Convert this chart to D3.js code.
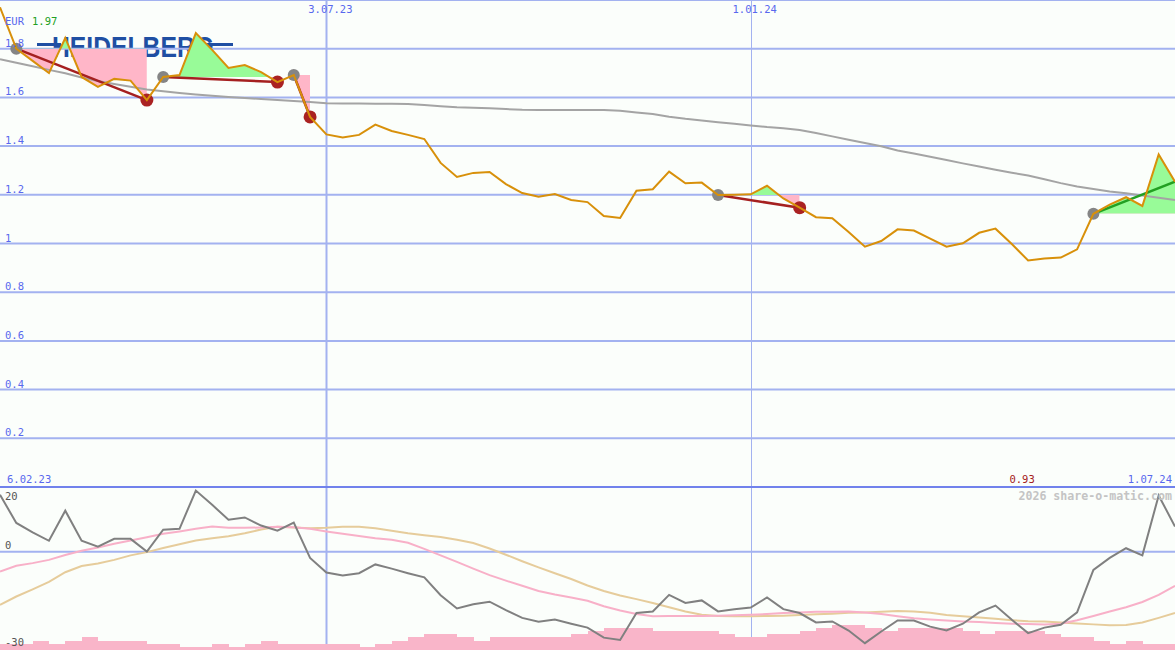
<!DOCTYPE html>
<html><head><meta charset="utf-8">
<script src="https://cdn.jsdelivr.net/npm/d3@7"></script>
<style>html,body{margin:0;padding:0;background:#fbfefb;overflow:hidden}</style>
</head><body><svg id="c" width="1175" height="650"></svg>
<script>
// ---------- data ----------
const firstWeek = "2023-02-13";
const weeks = 73;
const price = [1.97,1.80,1.75,1.70,1.844,1.684,1.643,1.676,1.669,1.589,
 1.684,1.692,1.864,1.795,1.721,1.733,1.704,1.663,1.692,1.52,
 1.448,1.435,1.446,1.488,1.462,1.446,1.429,1.331,1.273,1.29,
 1.294,1.244,1.207,1.192,1.203,1.179,1.17,1.113,1.105,1.217,
 1.223,1.295,1.247,1.25,1.199,1.20,1.202,1.237,1.185,1.147,
 1.108,1.104,1.047,0.987,1.01,1.058,1.053,1.02,0.987,1.001,
 1.044,1.061,0.998,0.93,0.938,0.942,0.976,1.122,1.16,1.19,
 1.154,1.366,1.254];
const ma200 = [1.757,1.742,1.728,1.713,1.699,1.682,1.667,1.655,1.644,1.632,
 1.625,1.618,1.612,1.607,1.602,1.598,1.593,1.589,1.585,1.581,
 1.576,1.575,1.575,1.574,1.574,1.573,1.569,1.564,1.560,1.558,
 1.555,1.552,1.549,1.548,1.548,1.548,1.548,1.548,1.545,1.538,
 1.532,1.521,1.512,1.505,1.498,1.492,1.485,1.478,1.473,1.466,
 1.454,1.440,1.426,1.413,1.399,1.382,1.370,1.356,1.343,1.329,
 1.316,1.303,1.291,1.279,1.264,1.248,1.234,1.224,1.214,1.206,
 1.197,1.188,1.179];
const momentum = [17.6,8.9,6.0,3.4,12.7,3.4,1.6,4.0,4.0,0.1,
 6.8,7.1,18.9,14.5,9.9,10.6,8.1,6.5,9.0,-1.9,
 -6.4,-7.3,-6.6,-3.9,-5.2,-6.6,-7.9,-13.4,-17.5,-16.2,
 -15.4,-18.0,-20.4,-21.6,-20.9,-22.2,-23.4,-26.5,-27.2,-18.9,
 -18.4,-13.3,-15.8,-15.0,-18.4,-17.7,-17.2,-14.1,-17.7,-18.9,
 -21.8,-21.5,-24.3,-28.2,-24.6,-21.2,-21.2,-23.1,-24.3,-22.2,
 -18.7,-16.6,-21.0,-25.1,-23.4,-22.5,-18.7,-5.6,-1.9,1.1,
 -1.1,17.4,7.8];
const momFast = [-6.1,-4.3,-3.5,-2.5,-1.0,0.3,1.3,2.5,3.5,4.5,
 5.6,6.3,7.1,7.8,7.4,7.4,7.5,7.7,7.6,7.1,
 6.3,5.6,4.9,4.2,3.7,2.8,0.9,-1.1,-3.1,-5.2,
 -7.2,-8.9,-10.5,-12.1,-13.2,-14.1,-15.1,-16.8,-18.1,-19.2,
 -19.9,-19.8,-19.8,-19.8,-19.7,-19.6,-19.4,-19.2,-18.9,-18.7,
 -18.5,-18.5,-18.4,-18.7,-19.2,-19.9,-20.5,-20.9,-21.2,-21.5,
 -21.7,-22.0,-22.2,-22.3,-22.4,-22.2,-21.1,-19.8,-18.4,-17.1,
 -15.5,-13.3,-10.5];
const momSlow = [-16.4,-13.8,-11.6,-9.3,-6.3,-4.4,-3.6,-2.5,-1.1,-0.1,
 1.2,2.3,3.5,4.2,4.8,5.7,6.9,7.7,7.5,7.3,
 7.4,7.7,7.7,7.3,6.5,5.7,5.1,4.6,3.7,2.7,
 1.0,-0.9,-2.9,-4.8,-6.6,-8.4,-10.4,-12.1,-13.5,-14.6,
 -15.8,-17.1,-18.4,-19.4,-19.8,-19.9,-19.9,-19.8,-19.7,-19.5,
 -19.3,-19.1,-18.8,-18.7,-18.5,-18.3,-18.4,-18.8,-19.5,-19.9,
 -20.3,-20.7,-21.1,-21.4,-21.5,-21.8,-22.1,-22.4,-22.7,-22.6,
 -21.8,-20.4,-18.9];
const volume = [2,2,3,2,3,4,3,3,3,2,
 2,1,1,2,1,2,3,2,2,2,
 2,2,1,2,3,4,5,5,4,3,
 4,4,4,4,4,5,6,7,7,7,
 6,6,6,6,5,4,4,5,5,6,
 7,8,8,7,6,7,7,7,7,6,
 5,6,6,6,5,4,4,3,2,3,
 2,2,2];
const priceTicks = [0.2,0.4,0.6,0.8,1,1.2,1.4,1.6,1.8];
const lowerTicks = [20,0,-30];
const dateTicks = ["2023-07-03","2024-01-01"];
const startLabel = "6.02.23";
const endLabel = "1.07.24";
const currency = "EUR";
const maxLabel = "1.97";
const minLabel = "0.93";
const minIndex = 63;
// trades: entry index, exit index, open flag
const tradeEntry = [1,10,18,44,67];
const tradeExit  = [9,17,19,49,72];
const tradeOpen  = [false,false,false,false,true];

// ---------- setup ----------
const W = 1175, H = 650;
const svg = d3.select("#c");
const parse = d3.timeParse("%Y-%m-%d");
const t0 = parse(firstWeek);
const dates = d3.range(weeks).map(i => d3.timeDay.offset(t0, i*7));
const fmt = d3.timeFormat("%-d.%m.%y");

const x = d3.scaleTime().domain([dates[0], dates[weeks-1]]).range([0, W]);
const y = d3.scaleLinear().domain([0, 2]).range([487, 0]);
const yl = d3.scaleLinear().domain([-30, 20]).range([649, 487]);
const yv = d3.scaleLinear().domain([0, 10]).range([650, 618.5]);

const GRID = "#a3b2f0", LABEL = "#5868ee", MONO = "DejaVu Sans Mono, monospace";

svg.append("rect").attr("width", W).attr("height", H).attr("fill", "#fbfefb");

const defs = svg.append("defs");
defs.append("clipPath").attr("id","mainClip").append("rect").attr("x",0).attr("y",0).attr("width",W).attr("height",487);
defs.append("clipPath").attr("id","lowClip").append("rect").attr("x",0).attr("y",487).attr("width",W).attr("height",163);

// ---------- logo ----------
const logo = svg.append("g");
logo.append("text").attr("x", 52).attr("y", 57)
  .attr("font-family", "Liberation Sans, Arial, sans-serif").attr("font-weight", "bold")
  .attr("font-size", 29).attr("textLength", 162).attr("lengthAdjust", "spacingAndGlyphs")
  .attr("fill", "#1f4fa3").text("HEIDELBERG");
logo.append("rect").attr("x", 37).attr("y", 43).attr("width", 24).attr("height", 3).attr("fill", "#1f4fa3");
logo.append("rect").attr("x", 205).attr("y", 43).attr("width", 28).attr("height", 3).attr("fill", "#1f4fa3");

// ---------- grid ----------
const grid = svg.append("g");
grid.selectAll(".hg").data(priceTicks.concat([2])).join("line")
  .attr("x1", 0).attr("x2", W).attr("y1", d => y(d)).attr("y2", d => y(d))
  .attr("stroke", GRID).attr("stroke-width", 2);
grid.append("line").attr("x1",0).attr("x2",W).attr("y1",yl(0)).attr("y2",yl(0))
  .attr("stroke", GRID).attr("stroke-width", 2);
const dt = dateTicks.map(parse);
grid.selectAll(".vg").data(dt).join("line")
  .attr("x1", d => Math.round(x(d)) + 0.5).attr("x2", d => Math.round(x(d)) + 0.5)
  .attr("y1", 0).attr("y2", H)
  .attr("stroke", GRID).attr("stroke-width", (d,i) => i === 0 ? 2 : 1);

// ---------- lower panel ----------
const low = svg.append("g").attr("clip-path","url(#lowClip)");
low.selectAll("rect.vol").data(volume).join("rect")
  .attr("x", (d,i) => x(dates[i]))
  .attr("width", (d,i) => i < weeks-1 ? x(dates[i+1]) - x(dates[i]) + 0.5 : 17)
  .attr("y", d => yv(d)).attr("height", d => 650 - yv(d))
  .attr("fill", "#f9b5c9").attr("shape-rendering","crispEdges");
const lineL = arr => d3.line().x((d,i) => x(dates[i])).y(d => yl(d))(arr);
low.append("path").attr("d", lineL(momSlow)).attr("fill","none").attr("stroke","#e6cc9b").attr("stroke-width",2);
low.append("path").attr("d", lineL(momFast)).attr("fill","none").attr("stroke","#f8b0c8").attr("stroke-width",2);
low.append("path").attr("d", lineL(momentum)).attr("fill","none").attr("stroke","#808080").attr("stroke-width",2);

// divider
svg.append("line").attr("x1",0).attr("x2",W).attr("y1",487).attr("y2",487)
  .attr("stroke","#7182ec").attr("stroke-width",2);

// ---------- main panel ----------
const main = svg.append("g").attr("clip-path","url(#mainClip)");
const pLine = d3.line().x((d,i) => x(dates[i])).y(d => y(d));

tradeEntry.forEach((e, t) => {
  const xe = tradeExit[t];
  const level = price[e];
  const idx = d3.range(e, xe + 1);
  const area = d3.area().x(i => x(dates[i])).y0(y(level)).y1(i => y(price[i]));
  const x0 = x(dates[e]), x1 = x(dates[xe]);
  defs.append("clipPath").attr("id","up"+t).append("rect")
    .attr("x", x0).attr("y", 0).attr("width", x1 - x0).attr("height", y(level));
  defs.append("clipPath").attr("id","dn"+t).append("rect")
    .attr("x", x0).attr("y", y(level)).attr("width", x1 - x0).attr("height", 487 - y(level));
  main.append("path").attr("d", area(idx)).attr("fill","#98fb98").attr("clip-path","url(#up"+t+")");
  main.append("path").attr("d", area(idx)).attr("fill","#ffb6c8").attr("clip-path","url(#dn"+t+")");
});

main.append("path").attr("d", pLine(ma200)).attr("fill","none").attr("stroke","#a4a4a4").attr("stroke-width",2);

tradeEntry.forEach((e, t) => {
  const xe = tradeExit[t];
  main.append("line")
    .attr("x1", x(dates[e])).attr("y1", y(price[e]))
    .attr("x2", x(dates[xe])).attr("y2", y(price[xe]))
    .attr("stroke", tradeOpen[t] ? "#22a022" : "#a52020").attr("stroke-width", 2.5);
});
tradeEntry.forEach((e, t) => {
  main.append("circle").attr("cx", x(dates[e])).attr("cy", y(price[e])).attr("r", 6).attr("fill", "#858585");
  if (!tradeOpen[t]) {
    const xe = tradeExit[t];
    main.append("circle").attr("cx", x(dates[xe])).attr("cy", y(price[xe])).attr("r", 6.5).attr("fill", "#aa2222");
  }
});

main.append("path").attr("d", pLine(price)).attr("fill","none").attr("stroke","#d8900a").attr("stroke-width",2);

// ---------- texts ----------
const txt = svg.append("g").attr("font-family", MONO).attr("font-size", 10.5);
txt.selectAll(".pl").data(priceTicks).join("text")
  .attr("x", 5).attr("y", d => y(d) - 2).attr("fill", LABEL).text(d => d3.format("")(d));
txt.append("text").attr("x", 5).attr("y", 25).attr("fill", LABEL).text(currency);
txt.append("text").attr("x", 32).attr("y", 25).attr("fill", "#22a022").text(maxLabel);
txt.selectAll(".dl").data(dt).join("text")
  .attr("x", d => x(d) + 4).attr("y", 13).attr("text-anchor","middle").attr("fill", LABEL).text(d => fmt(d));
txt.append("text").attr("x", 7).attr("y", 483).attr("fill", LABEL).text(startLabel);
txt.append("text").attr("x", 1172).attr("y", 483).attr("text-anchor","end").attr("fill", LABEL).text(endLabel);
txt.append("text").attr("x", x(dates[minIndex]) - 6).attr("y", 483).attr("text-anchor","middle").attr("fill", "#a52020").text(minLabel);
txt.selectAll(".ll").data(lowerTicks).join("text")
  .attr("x", 5).attr("y", d => d === 20 ? 500 : yl(d) - 3).attr("fill", "#555").text(d => d);
svg.append("text").attr("x", 1172).attr("y", 500).attr("text-anchor","end")
  .attr("font-family", MONO).attr("font-weight","bold").attr("font-size", 11.6)
  .attr("fill", "#c4c4c4").text("2026 share-o-matic.com");
</script></body></html>
